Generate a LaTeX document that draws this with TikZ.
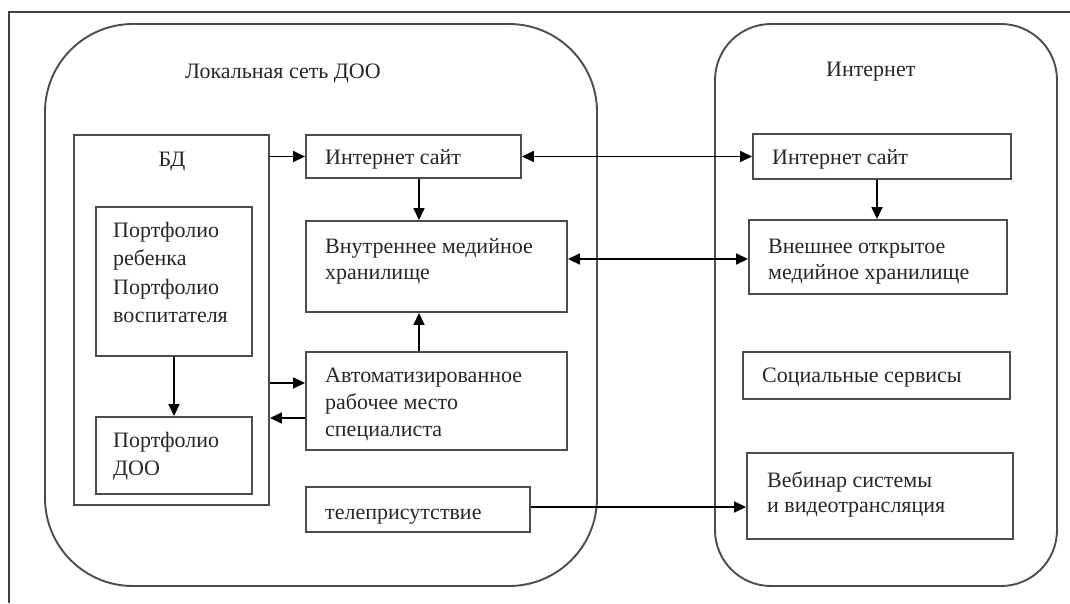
\documentclass[tikz,border=0pt]{standalone}
\usepackage{fontspec}
\setmainfont{Liberation Serif}
\usetikzlibrary{arrows.meta}
\begin{document}
\begin{tikzpicture}[x=1pt,y=-1pt,
  frame/.style={draw=black!75,line width=2pt},
  region/.style={draw=black!70,line width=1.9pt,inner sep=0pt},
  box/.style={draw=black!70,line width=1.9pt,inner sep=0pt},
  lbl/.style={anchor=base west,inner sep=0pt,align=left,text=black!85,
    font=\fontsize{22}{27}\selectfont},
  tip/.style={-{Triangle[length=12pt,width=11pt]}},
  conn/.style={draw=black,line width=1.6pt,tip},
  biconn/.style={draw=black,line width=1.6pt,
    {Triangle[length=12pt,width=11pt]}-{Triangle[length=12pt,width=11pt]}}
]
\useasboundingbox (0,0) rectangle (1070,603);

% outer frame (top and left edges)
\draw[frame] (9,603) -- (9,12) -- (1070,12);

% two network regions
\node[region, rounded corners=88pt, minimum width=552pt, minimum height=562pt] (lan) at (321,305) {};
\node[region, rounded corners=56pt, minimum width=342pt, minimum height=562pt] (web) at (886,305) {};
\node[lbl] (lantitle) at (185,78) {Локальная сеть ДОО};
\node[lbl] (webtitle) at (826,76) {Интернет};

% database block (multi-line labels are placed by their last baseline)
\node[box, minimum width=195pt, minimum height=370pt] (bd) at (171.5,320) {};
\node[lbl, anchor=base] (bdtitle) at (172,166) {БД};
\node[box, minimum width=156pt, minimum height=149pt] (pchild) at (174,281.5) {};
\node[lbl, font=\fontsize{22}{28.5}\selectfont] (pchildtxt) at (113,322.5)
  {Портфолио\\ребенка\\Портфолио\\воспитателя};
\node[box, minimum width=156pt, minimum height=77pt] (pdoo) at (174,455.5) {};
\node[lbl, font=\fontsize{22}{28}\selectfont] (pdootxt) at (113,475) {Портфолио\\ДОО};

% local services
\node[box, minimum width=215pt, minimum height=43pt] (intL) at (413.5,156.5) {};
\node[lbl] (intLtxt) at (325,164) {Интернет сайт};
\node[box, minimum width=261pt, minimum height=91pt] (inner) at (436.5,266.5) {};
\node[lbl, font=\fontsize{22}{26}\selectfont] (innertxt) at (325,279) {Внутреннее медийное\\хранилище};
\node[box, minimum width=261pt, minimum height=98pt] (arm) at (436.5,401) {};
\node[lbl] (armtxt) at (325,436) {Автоматизированное\\рабочее место\\специалиста};
\node[box, minimum width=224pt, minimum height=45pt] (tele) at (418,509.5) {};
\node[lbl] (teletxt) at (325,519) {телеприсутствие};

% internet services
\node[box, minimum width=258pt, minimum height=45pt] (intR) at (882,156.5) {};
\node[lbl] (intRtxt) at (772,164) {Интернет сайт};
\node[box, minimum width=258pt, minimum height=74pt] (outer) at (878,257) {};
\node[lbl, font=\fontsize{22}{26}\selectfont] (outertxt) at (768,279) {Внешнее открытое\\медийное хранилище};
\node[box, minimum width=267pt, minimum height=47pt] (social) at (876.5,375.5) {};
\node[lbl] (socialtxt) at (762,382) {Социальные сервисы};
\node[box, minimum width=266pt, minimum height=86pt] (webinar) at (880,496) {};
\node[lbl, font=\fontsize{22}{25}\selectfont] (webinartxt) at (767,512) {Вебинар системы\\и видеотрансляция};

% connectors
\draw[conn] (intL.west -| bd.east) -- (intL.west);
\draw[biconn] (intL.east) -- (intR.west);
\draw[conn] ([xshift=5.5pt]intL.south) -- ([xshift=5.5pt]intL.south |- inner.north);
\draw[conn] ([xshift=-17.5pt]arm.north) -- ([xshift=-17.5pt]arm.north |- inner.south);
\draw[biconn] ([yshift=7.5pt]inner.east) -- ([yshift=7.5pt]inner.east -| outer.west);
\draw[conn] ([xshift=-5pt]intR.south) -- ([xshift=-5pt]intR.south |- outer.north);
\draw[conn] ([yshift=18pt]arm.west -| bd.east) -- ([yshift=18pt]arm.west);
\draw[conn] ([yshift=-17pt]arm.west) -- ([yshift=-17pt]arm.west -| bd.east);
\draw[conn] (pchild.south) -- (pdoo.north);
\draw[conn] ([yshift=2.5pt]tele.east) -- ([yshift=2.5pt]tele.east -| webinar.west);
\end{tikzpicture}
\end{document}
